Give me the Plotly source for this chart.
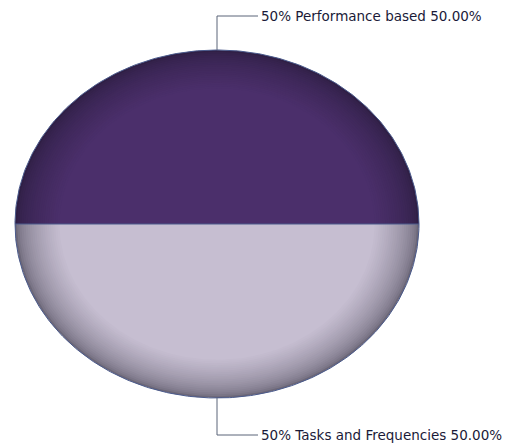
import numpy as np
import plotly.graph_objects as go

# ---- data ----
labels = ["50% Performance based", "50% Tasks and Frequencies"]
values = [50, 50]
base_colors = ["#4b2f6b", "#c6bed1"]
edge_colors = ["#2f1f45", "#6c6778"]

# ---- layout geometry (pixel space) ----
W, H = 522, 443
cx, cy = 217, 224
rx, ry = 202, 174
n_layers = 22
inner_k = 0.78


def hex2rgb(h):
    h = h.lstrip("#")
    return np.array([int(h[i:i + 2], 16) for i in (0, 2, 4)], dtype=float)


def lerp(c1, c2, t):
    a, b = hex2rgb(c1), hex2rgb(c2)
    c = a + (b - a) * t
    return "rgb(%d,%d,%d)" % tuple(np.round(c))


total = float(sum(values))
fig = go.Figure()

start = 0.0  # degrees, counter-clockwise from 3 o'clock
mids = []
for lab, v, bc, ec in zip(labels, values, base_colors, edge_colors):
    sweep = 360.0 * v / total
    ang = np.radians(np.linspace(start, start + sweep, 240))
    mids.append(np.radians(start + sweep / 2))
    for i in range(n_layers):
        t = i / (n_layers - 1)
        k = 1.0 - (1.0 - inner_k) * t
        col = lerp(ec, bc, t ** 0.6)
        xs = np.concatenate([[cx], cx + k * rx * np.cos(ang), [cx]])
        ys = np.concatenate([[cy], cy - k * ry * np.sin(ang), [cy]])
        fig.add_trace(go.Scatter(x=xs, y=ys, mode="lines", fill="toself",
                                 fillcolor=col, line=dict(width=0),
                                 hoverinfo="skip", showlegend=False))
    start += sweep

# outline and slice borders
full = np.radians(np.linspace(0, 360, 480))
fig.add_trace(go.Scatter(x=cx + rx * np.cos(full), y=cy - ry * np.sin(full),
                         mode="lines", line=dict(color="#4a5a8c", width=1),
                         hoverinfo="skip", showlegend=False))
b = 0.0
for v in values:
    a = np.radians(b)
    fig.add_trace(go.Scatter(x=[cx, cx + rx * np.cos(a)], y=[cy, cy - ry * np.sin(a)],
                             mode="lines", line=dict(color="#4a5a8c", width=1),
                             hoverinfo="skip", showlegend=False))
    b += 360.0 * v / total

# leader lines + labels
label_y = {0: 16, 1: 435}
text_x = 258
for i, (lab, v, m) in enumerate(zip(labels, values, mids)):
    px, py = cx + rx * np.cos(m), cy - ry * np.sin(m)
    ly = label_y[i]
    fig.add_trace(go.Scatter(x=[px, px, text_x], y=[py, ly, ly], mode="lines",
                             line=dict(color="#5a6478", width=1),
                             hoverinfo="skip", showlegend=False))
    fig.add_annotation(x=text_x + 1, y=ly, text="%s %.2f%%" % (lab, 100 * v / total),
                       showarrow=False, xanchor="left", yanchor="middle",
                       font=dict(family="DejaVu Sans", size=13.5, color="#1a1a38"))

fig.update_xaxes(range=[0, W], visible=False, fixedrange=True)
fig.update_yaxes(range=[H, 0], visible=False, fixedrange=True)
fig.update_layout(width=W, height=H, margin=dict(l=0, r=0, t=0, b=0),
                  paper_bgcolor="white", plot_bgcolor="white", showlegend=False)
fig.write_html("out.html")
